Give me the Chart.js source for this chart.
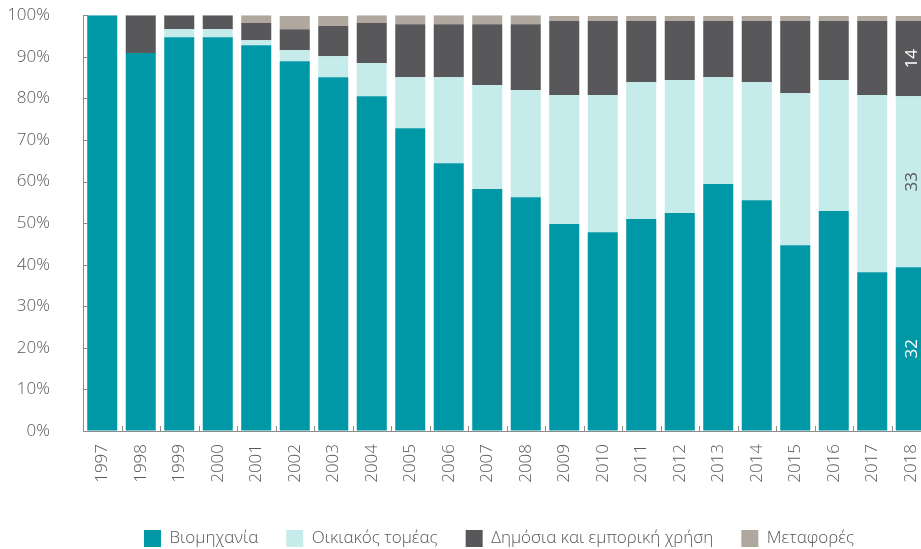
<!DOCTYPE html>
<html><head><meta charset="utf-8">
<script src="https://cdn.jsdelivr.net/npm/chart.js@4.4.1/dist/chart.umd.min.js"></script>
<style>html,body{margin:0;padding:0;overflow:hidden;background:#fff}#wrap{width:940px;height:549px;position:relative}</style>
</head><body><div id="wrap"><canvas id="c"></canvas></div>
<script>
const years = ['1997','1998','1999','2000','2001','2002','2003','2004','2005','2006','2007','2008','2009','2010','2011','2012','2013','2014','2015','2016','2017','2018'];
const industry = [100, 90.9, 94.7, 94.7, 92.8, 88.9, 85.1, 80.5, 72.8, 64.4, 58.2, 56.2, 49.8, 47.8, 51.0, 52.4, 59.4, 55.5, 44.7, 52.9, 38.2, 39.4];
const residential = [0, 0, 1.9, 1.9, 1.2, 2.7, 5.0, 8.0, 12.3, 20.7, 25.0, 25.8, 31.0, 33.0, 32.9, 32.0, 25.7, 28.4, 36.5, 31.5, 42.6, 41.1];
const publicCommercial = [0, 9.1, 3.4, 3.4, 4.1, 5.0, 7.3, 9.6, 12.7, 12.7, 14.6, 15.8, 17.8, 17.8, 14.7, 14.2, 13.5, 14.7, 17.4, 14.2, 17.8, 18.1];
const transport = [0, 0, 0, 0, 1.9, 3.2, 2.4, 1.9, 2.2, 2.2, 2.2, 2.2, 1.2, 1.2, 1.2, 1.2, 1.2, 1.2, 1.2, 1.2, 1.2, 1.2];
const seriesNames = ['Βιομηχανία', 'Οικιακός τομέας', 'Δημόσια και εμπορική χρήση', 'Μεταφορές'];
const lastBarLabels = ['32', '33', '14', ''];

const FONT = '"Open Sans", "Noto Sans", sans-serif';
const TXT = '#58585a';
const AXIS = '#8c8c8c';
const colors = ['#0097a7', '#c5ebeb', '#58585a', '#b0a79f'];
const labelColors = ['#ffffff', '#58585a', '#ffffff', '#ffffff'];

const seriesData = [industry, residential, publicCommercial, transport];

const annot = {
  id: 'annot',
  beforeLayout(chart) {
    const lg = chart.legend;
    if (lg && !lg._fitPatched) {
      const orig = lg.fit;
      lg.fit = function () { orig.call(this); this.height = 58; };
      lg._fitPatched = true;
    }
  },
  afterLayout(chart) {
    const lg = chart.legend;
    const shift = 34;
    lg.left += shift; lg.right += shift;
    const h = lg.height;
    lg.top = 502; lg.bottom = lg.top + h;
  },
  afterDatasetsDraw(chart) {
    const ctx = chart.ctx;
    const ca = chart.chartArea;
    const xs = chart.scales.x, ys = chart.scales.y;
    ctx.save();
    ctx.strokeStyle = AXIS;
    ctx.lineWidth = 1;
    ys.ticks.forEach((t, i) => {
      const y = Math.round(ys.getPixelForTick(i)) + 0.5;
      ctx.beginPath(); ctx.moveTo(ca.left, y); ctx.lineTo(ca.left + 5, y); ctx.stroke();
    });
    for (let i = 0; i < years.length; i++) {
      const x = Math.round(xs.getPixelForValue(i + 0.5)) + 0.5;
      ctx.beginPath(); ctx.moveTo(x, ca.bottom); ctx.lineTo(x, ca.bottom - 5); ctx.stroke();
    }
    const last = years.length - 1;
    ctx.font = '17px ' + FONT;
    ctx.textAlign = 'center';
    ctx.textBaseline = 'middle';
    lastBarLabels.forEach((lab, di) => {
      if (!lab) return;
      const el = chart.getDatasetMeta(di).data[last];
      const cy = (el.y + el.base) / 2;
      ctx.save();
      ctx.translate(el.x + 1, cy);
      ctx.rotate(-Math.PI / 2);
      ctx.fillStyle = labelColors[di];
      ctx.fillText(lab, 0, 0);
      ctx.restore();
    });
    ctx.restore();
  }
};

new Chart(document.getElementById('c'), {
  type: 'bar',
  data: {
    labels: years,
    datasets: seriesData.map((d, i) => ({
      label: seriesNames[i],
      data: d,
      backgroundColor: colors[i],
      borderWidth: 0,
      barPercentage: 0.78,
      categoryPercentage: 1
    }))
  },
  options: {
    responsive: true,
    maintainAspectRatio: false,
    animation: false,
    layout: { padding: { top: 0, right: 10, left: 0, bottom: 0 } },
    plugins: {
      tooltip: { enabled: false },
      legend: {
        position: 'bottom',
        labels: {
          boxWidth: 17, boxHeight: 17, padding: 28,
          color: TXT,
          font: { family: FONT, size: 17, weight: '300' }
        }
      }
    },
    scales: {
      x: {
        stacked: true,
        grid: { drawOnChartArea: false, drawTicks: true, tickLength: 10, tickColor: 'rgba(0,0,0,0)' },
        border: { display: true, color: AXIS },
        ticks: { color: TXT, font: { family: FONT, size: 17, weight: '300' }, minRotation: 90, maxRotation: 90, padding: 3, autoSkip: false },
        afterFit(s) { s.height = 60; }
      },
      y: {
        stacked: true,
        min: 0, max: 100,
        grid: { drawOnChartArea: false, drawTicks: true, tickLength: 28, tickColor: 'rgba(0,0,0,0)' },
        border: { display: true, color: AXIS },
        ticks: { stepSize: 10, color: TXT, font: { family: FONT, size: 17, weight: '300' }, padding: 5, callback: v => v + '%' },
        afterFit(s) { s.width = 83; }
      }
    }
  },
  plugins: [annot]
});
</script>
</body></html>
